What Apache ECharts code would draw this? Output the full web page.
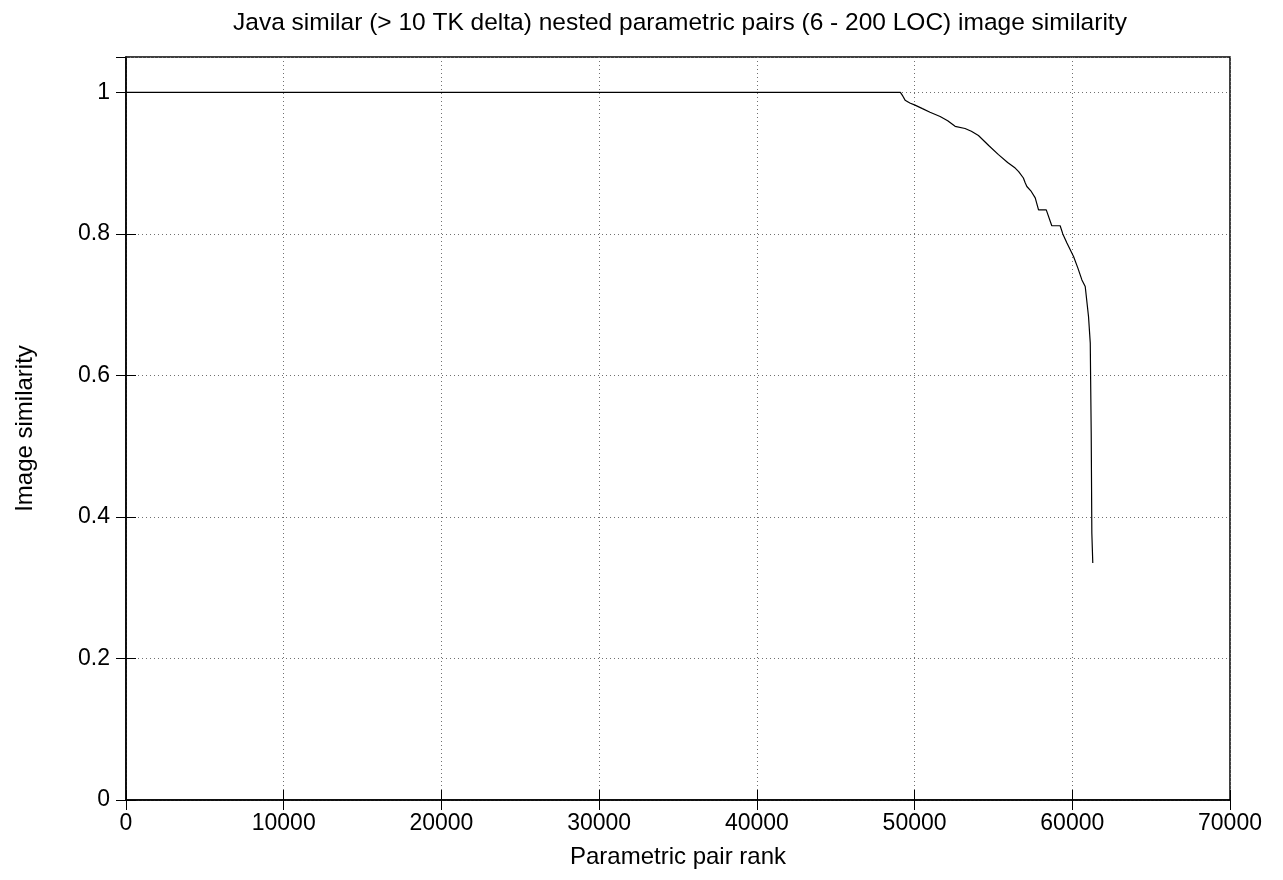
<!DOCTYPE html>
<html>
<head>
<meta charset="utf-8">
<script src="https://cdn.jsdelivr.net/npm/echarts@6/dist/echarts.min.js"></script>
<style>html,body{margin:0;padding:0;background:#fff}#c{width:1283px;height:880px}</style>
</head>
<body>
<div id="c"></div>
<script>
const titleText = 'Java similar (> 10 TK delta) nested parametric pairs (6 - 200 LOC) image similarity';
const xName = 'Parametric pair rank';
const yName = 'Image similarity';
const rankValues = [0, 49100, 49250, 49400, 49700, 50030, 50500, 50980, 51620, 52100, 52570, 53200, 53600, 54050, 54700, 55320, 55900, 56380, 56600, 56900, 57000, 57120, 57400, 57650, 57860, 58350, 58700, 59230, 59400, 59660, 60080, 60350, 60610, 60820, 60925, 61030, 61140, 61160, 61200, 61240, 61300];
const similarityValues = [1, 1, 0.995, 0.989, 0.985, 0.982, 0.977, 0.972, 0.966, 0.960, 0.952, 0.949, 0.945, 0.939, 0.925, 0.912, 0.901, 0.893, 0.888, 0.879, 0.873, 0.867, 0.860, 0.851, 0.834, 0.834, 0.8115, 0.8115, 0.800, 0.787, 0.768, 0.752, 0.735, 0.7257, 0.7248, 0.683, 0.6457, 0.601, 0.518, 0.377, 0.335];

const seriesData = rankValues.map((x, i) => [x, similarityValues[i]]);
const FONT = 'Liberation Sans, Arial, sans-serif';
const gridLine = { show: true, lineStyle: { color: '#707070', width: 1, type: [1, 3] } };
const tickIn = { show: true, inside: true, length: 10, lineStyle: { color: '#000', width: 1 } };

const chart = echarts.init(document.getElementById('c'), null, { renderer: 'canvas' });
chart.setOption({
  animation: false,
  backgroundColor: '#fff',
  title: {
    text: titleText, left: 228, top: 6,
    textStyle: { fontFamily: FONT, fontSize: 24.5, fontWeight: 'normal', color: '#000' }
  },
  grid: { left: 126, right: 53, top: 57, bottom: 80, show: true, borderColor: '#000', borderWidth: 1.5, backgroundColor: 'transparent' },
  xAxis: [{
    type: 'value', min: 0, max: 70000, interval: 10000, position: 'bottom',
    name: xName, nameLocation: 'middle', nameGap: 45,
    nameTextStyle: { fontFamily: FONT, fontSize: 24, color: '#000' },
    axisLine: { show: true, lineStyle: { color: '#000', width: 1.5 } },
    axisTick: tickIn, splitLine: gridLine,
    axisLabel: { fontFamily: FONT, fontSize: 23, color: '#000', margin: 12, formatter: v => String(v) }
  }, {
    type: 'value', min: 0, max: 70000, interval: 10000, position: 'top',
    axisLine: { show: false }, axisTick: tickIn, splitLine: { show: false }, axisLabel: { show: false }
  }],
  yAxis: [{
    type: 'value', min: 0, max: 1.05, interval: 0.2, position: 'left',
    name: yName, nameLocation: 'middle', nameGap: 89, nameRotate: 90,
    nameTextStyle: { fontFamily: FONT, fontSize: 24, color: '#000' },
    axisLine: { show: true, lineStyle: { color: '#000', width: 1.5 } },
    axisTick: tickIn, splitLine: gridLine,
    axisLabel: { fontFamily: FONT, fontSize: 23, color: '#000', margin: 16, showMaxLabel: false,
      formatter: v => (Math.abs(v * 5 - Math.round(v * 5)) < 1e-6 ? String(Math.round(v * 10) / 10) : '') }
  }, {
    type: 'value', min: 0, max: 1.05, interval: 0.2, position: 'right',
    axisLine: { show: false }, axisTick: tickIn, splitLine: { show: false }, axisLabel: { show: false }
  }],
  series: [{
    type: 'line', data: seriesData, xAxisIndex: 0, yAxisIndex: 0,
    showSymbol: false, symbol: 'none',
    lineStyle: { color: '#000', width: 1.2 }
  }]
});
</script>
</body>
</html>
